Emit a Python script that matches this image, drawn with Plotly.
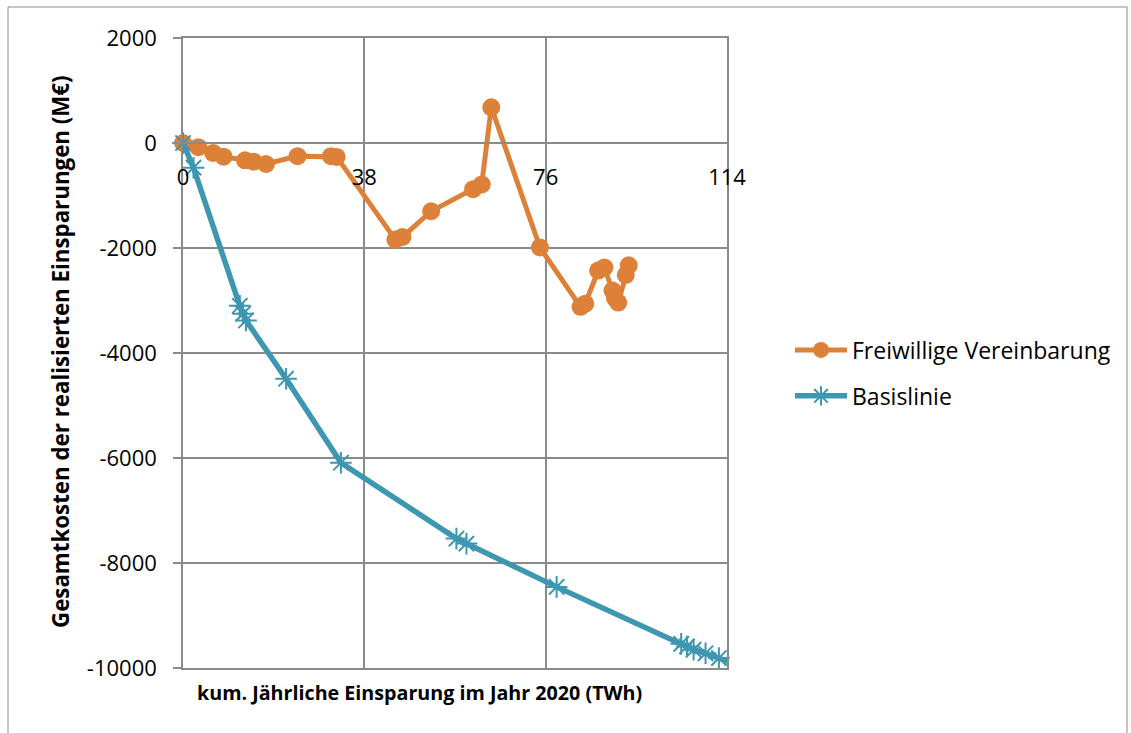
import plotly.graph_objects as go

# Freiwillige Vereinbarung: cumulative annual savings 2020 (TWh) vs. total cost (M€)
fv_x = [0, 3.2, 6.3, 8.5, 13.0, 14.8, 17.4, 24.0, 31.0, 32.2, 44.5, 46.0, 52.0,
        60.8, 62.6, 64.6, 74.8, 83.3, 84.3, 87.0, 88.3, 90.0, 90.5, 91.2, 92.8, 93.4]
fv_y = [0, -80, -190, -260, -330, -355, -400, -250, -250, -265, -1840, -1790, -1300,
        -880, -790, 680, -1990, -3120, -3060, -2430, -2370, -2810, -2950, -3040, -2510, -2330]

# Basislinie
bl_x = [0, 2.2, 11.9, 12.6, 13.2, 21.6, 33.1, 57.3, 59.4, 78.3,
        104.4, 105.6, 107.0, 109.5, 112.3, 114.6]
bl_y = [0, -470, -3100, -3250, -3380, -4490, -6090, -7535, -7630, -8455,
        -9540, -9590, -9650, -9720, -9810, -9890]

x_ticks = [0, 38, 76, 114]
y_ticks = [2000, 0, -2000, -4000, -6000, -8000, -10000]

ORANGE = "rgb(221,129,57)"
BLUE = "rgb(62,151,177)"
GRID = "#8a8a8a"
FONT = "Open Sans"

W, H = 1131, 733
L, R, T, B = 183, 404, 38, 65
pw, ph = W - L - R, H - T - B


def px(xp):
    return (xp - L) / pw


def py(yp):
    return (H - B - yp) / ph


fig = go.Figure()
fig.add_trace(go.Scatter(
    x=fv_x, y=fv_y, name="Freiwillige Vereinbarung", mode="lines+markers",
    legendgroup="a",
    line=dict(color=ORANGE, width=5),
    marker=dict(symbol="circle", size=18, color=ORANGE),
    cliponaxis=False,
))
fig.add_trace(go.Scatter(
    x=bl_x, y=bl_y, name="Basislinie", mode="lines+markers",
    legendgroup="b",
    line=dict(color=BLUE, width=5.5),
    marker=dict(symbol="asterisk-open", size=18, color=BLUE,
                line=dict(color=BLUE, width=2)),
    cliponaxis=False,
))
# empty trace so the framing axis (x2) is rendered
fig.add_trace(go.Scatter(x=[], y=[], xaxis="x2", yaxis="y", mode="markers",
                         showlegend=False, hoverinfo="skip"))

# value of the y axis where the x axis crosses (0) as a paper fraction
y0_paper = (0 - min(y_ticks)) / (max(y_ticks) - min(y_ticks))

fig.update_layout(
    width=W, height=H,
    margin=dict(l=L, r=R, t=T, b=B, pad=0),
    paper_bgcolor="white", plot_bgcolor="white",
    font=dict(family=FONT, color="black"),
    showlegend=True,
    legend=dict(
        x=px(790), y=py(373), xanchor="left", yanchor="middle",
        font=dict(size=23, family=FONT), tracegroupgap=13,
        bgcolor="rgba(0,0,0,0)", itemwidth=52,
    ),
    xaxis=dict(
        range=[0, 114], tickmode="array", tickvals=x_ticks,
        ticktext=[str(v) for v in x_ticks],
        showgrid=True, gridcolor=GRID, gridwidth=1.5,
        zeroline=False, showline=True, linecolor=GRID, linewidth=1.5,
        anchor="free", position=y0_paper, ticks="",
        ticklabelstandoff=15,
        tickfont=dict(size=22, family=FONT),
    ),
    # frame along the bottom (-10000) and top (2000) of the plot area
    xaxis2=dict(
        range=[0, 114], overlaying="x", anchor="y", side="bottom",
        showgrid=False, zeroline=False, showticklabels=False, ticks="",
        showline=True, mirror=True, linecolor=GRID, linewidth=1.5,
    ),
    yaxis=dict(
        range=[-10000, 2000], tickmode="array", tickvals=y_ticks,
        ticktext=[str(v) for v in y_ticks],
        showgrid=True, gridcolor=GRID, gridwidth=1.5,
        zeroline=False, showline=True, linecolor=GRID, linewidth=1.5,
        mirror=True,
        ticks="outside", ticklen=8, tickcolor=GRID, tickwidth=1.5,
        ticklabelstandoff=12,
        tickfont=dict(size=22, family=FONT),
    ),
    annotations=[
        dict(text="<b>kum. Jährliche Einsparung im Jahr 2020 (TWh)</b>",
             xref="paper", yref="paper", x=px(419), y=py(692),
             xanchor="center", yanchor="middle", showarrow=False,
             font=dict(size=19.7, family=FONT)),
        dict(text="<b>Gesamtkosten der realisierten Einsparungen (M€)</b>",
             xref="paper", yref="paper", x=px(60), y=py(352),
             xanchor="center", yanchor="middle", showarrow=False,
             textangle=-90, font=dict(size=22.3, family=FONT)),
    ],
    shapes=[
        dict(type="rect", xref="paper", yref="paper",
             x0=px(8), x1=px(1127), y0=py(745), y1=py(7),
             line=dict(color="#8c8c8c", width=1), layer="below"),
    ],
)

fig.write_html("out.html")
